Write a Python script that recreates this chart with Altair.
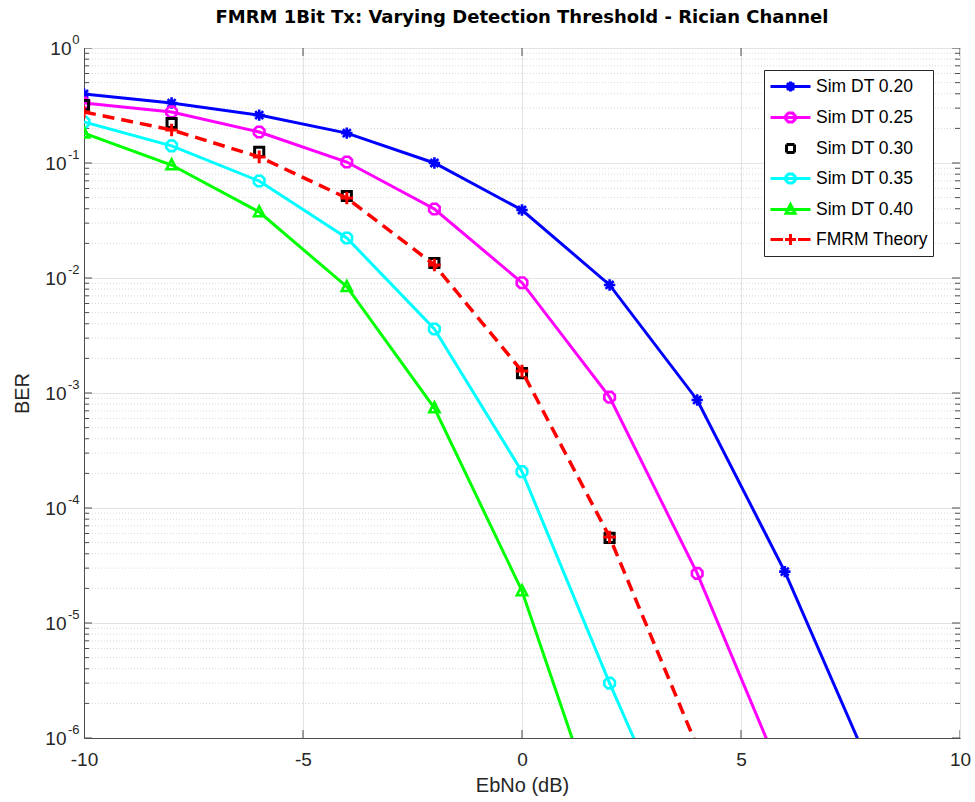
import re
import altair as alt
import pandas as pd

# ---- data ----
ebno = [-10, -8, -6, -4, -2, 0, 2, 4, 6, 8]
series_names = ["Sim DT 0.20", "Sim DT 0.25", "Sim DT 0.30", "Sim DT 0.35", "Sim DT 0.40", "FMRM Theory"]
ber_dt20 = [0.398, 0.332, 0.261, 0.182, 0.100, 0.039, 0.0087, 8.7e-4, 2.8e-5, 5.0e-7]
ber_dt25 = [0.332, 0.278, 0.186, 0.102, 0.0398, 0.0091, 9.2e-4, 2.7e-5, 4.1e-7]
ber_dt30 = [0.319, 0.223, 0.125, 0.0516, 0.0135, 1.49e-3, 5.5e-5]
ber_dt35 = [0.227, 0.141, 0.0697, 0.0223, 3.6e-3, 2.07e-4, 3.0e-6, 5.5e-8]
ber_dt40 = [0.182, 0.096, 0.0375, 8.4e-3, 7.4e-4, 1.9e-5, 1.1e-7]
ber_theory = [0.278, 0.194, 0.113, 0.0496, 0.013, 1.55e-3, 5.6e-5, 8.4e-7]
colors = ["#0000ff", "#ff00ff", "#000000", "#00ffff", "#00ff00", "#ff0000"]

x_domain = [-10, 10]
y_domain = [1e-6, 1]
x_ticks = [-10, -5, 0, 5, 10]
y_major = [1e-6, 1e-5, 1e-4, 1e-3, 1e-2, 1e-1, 1]
y_minor = [m * 10.0 ** e for e in range(-6, 0) for m in range(2, 10)]

all_vals = [ber_dt20, ber_dt25, ber_dt30, ber_dt35, ber_dt40, ber_theory]
rows = []
for name, vals in zip(series_names, all_vals):
    for xv, yv in zip(ebno, vals):
        rows.append({"series": name, "EbNo": xv, "BER": yv})
df = pd.DataFrame(rows)
df_sim_lines = df[df.series.isin(["Sim DT 0.20", "Sim DT 0.25", "Sim DT 0.35", "Sim DT 0.40"])]
df_theory = df[df.series == "FMRM Theory"]
df_minor = pd.DataFrame({"v": y_minor})

# ---- marker shapes (unit paths) ----
octa = "M0.924,0.383L0.383,0.924L-0.383,0.924L-0.924,0.383L-0.924,-0.383L-0.383,-0.924L0.383,-0.924L0.924,-0.383Z"
aster = "M-1,0L1,0M0,-1L0,1M-0.7,-0.7L0.7,0.7M-0.7,0.7L0.7,-0.7"
square = "M-0.8,-0.8L0.8,-0.8L0.8,0.8L-0.8,0.8Z"
tri = "M0,-1L0.9,0.75L-0.9,0.75Z"
plus = "M-1.1,0L1.1,0M0,-1.1L0,1.1"
marker_paths = [aster, octa, square, octa, tri, plus]
marker_widths = [2.6, 2.6, 3.0, 2.6, 2.6, 3.0]


def xform(path, k=1.0, dx=0.0):
    """scale a M/L/Z path by k and shift it by dx along x"""
    def rep(m):
        x, y = float(m.group(1)), float(m.group(2))
        return f"{x * k + dx:g},{y * k:g}"
    return re.sub(r"(-?[\d.]+),(-?[\d.]+)", rep, path)


SH = 1.0  # legend glyph shift (units)
line_seg = xform("M-2,0L2,0", 1, SH)
legend_paths = [
    line_seg + xform(aster, 0.5, SH),
    line_seg + xform(octa, 0.5, SH),
    xform(square, 0.5, SH),
    line_seg + xform(octa, 0.5, SH),
    line_seg + xform(tri, 0.5, SH),
    xform("M-2,0L-0.75,0M0.75,0L2,0", 1, SH) + xform(plus, 0.5, SH),
]
expr = "'" + legend_paths[-1] + "'"
for name, p in reversed(list(zip(series_names[:-1], legend_paths[:-1]))):
    expr = f"datum.value === '{name}' ? '{p}' : ({expr})"

FONT = "Liberation Sans"
AXC = "#4d4d4d"

legend = alt.Legend(
    title=None, orient="none", legendX=680, legendY=22,
    symbolSize=400, symbolStrokeWidth=3, symbolType=alt.ExprRef(expr=expr),
    symbolFillColor="transparent", symbolOpacity=1, symbolDash=[1, 0],
    labelFont=FONT, labelFontSize=17.5, labelColor="#000000", labelOffset=24,
    rowPadding=8, padding=5, strokeColor="#262626", fillColor="white",
)

x_scale = alt.Scale(domain=x_domain, nice=False, zero=False)
y_scale = alt.Scale(type="log", domain=y_domain, nice=False)

x_axis = alt.Axis(values=x_ticks, title="EbNo (dB)", labelFlush=False,
                  labelExpr="datum.value < 0 ? '-' + (-datum.value) : '' + datum.value")
x_enc = alt.X("EbNo:Q", scale=x_scale, axis=x_axis)

# y axis "10" part (with grid and title)
y_axis_base = alt.Axis(values=y_major, title="BER", orient="left", labelFlush=False,
                       labelExpr="'10'", labelAlign="right", labelFontSize=19,
                       labelPadding={"condition": {"test": "datum.value === 1", "value": 13}, "value": 18},
                       grid=True, titlePadding=12)
# y axis exponent part
y_axis_exp = alt.Axis(values=y_major, title=None, orient="left", labelFlush=False,
                      labelExpr="['0','-1','-2','-3','-4','-5','-6'][round(-log(datum.value)/LN10)]",
                      labelAlign="right", labelFontSize=13, labelPadding=5, labelOffset=-9,
                      grid=False, domain=False)

y_base = alt.Y("BER:Q", scale=y_scale, axis=y_axis_base)
y_exp = alt.Y("BER:Q", scale=y_scale, axis=y_axis_exp)
y_none = alt.Y("BER:Q", scale=y_scale, axis=None)

color_enc = alt.Color("series:N", scale=alt.Scale(domain=series_names, range=colors), legend=legend)

minor = alt.Chart(df_minor).mark_rule(color="#d9d9d9", strokeDash=[1, 2], strokeWidth=1).encode(
    y=alt.Y("v:Q", scale=y_scale, axis=None))

# inside ticks (MATLAB style box ticks), clipped at the frame
tick_layers = []
for xv in x_domain:
    tick_layers.append(alt.Chart(pd.DataFrame({"EbNo": xv, "BER": y_major})).mark_tick(
        orient="horizontal", size=16, thickness=1, color=AXC, clip=True, opacity=1).encode(x=x_enc, y=y_none))
    tick_layers.append(alt.Chart(pd.DataFrame({"EbNo": xv, "BER": y_minor})).mark_tick(
        orient="horizontal", size=10, thickness=1, color=AXC, clip=True, opacity=1).encode(x=x_enc, y=y_none))
for yv in y_domain:
    tick_layers.append(alt.Chart(pd.DataFrame({"EbNo": x_ticks, "BER": yv})).mark_tick(
        orient="vertical", size=16, thickness=1, color=AXC, clip=True, opacity=1).encode(x=x_enc, y=y_none))

sim_lines = alt.Chart(df_sim_lines).mark_line(clip=True, strokeWidth=3).encode(
    x=x_enc, y=y_base, color=color_enc)
th_line = alt.Chart(df_theory).mark_line(clip=True, strokeWidth=3.5, strokeDash=[12, 7]).encode(
    x=x_enc, y=y_exp, color=color_enc)

pt_layers = []
for name, col, path, sw in zip(series_names, colors, marker_paths, marker_widths):
    sub = df[df.series == name]
    pt_layers.append(
        alt.Chart(sub).mark_point(clip=True, filled=False, shape=path, color=col, size=130,
                                  strokeWidth=sw, opacity=1).encode(x=x_enc, y=y_none)
    )

layers = [minor] + tick_layers + [sim_lines] + pt_layers[:5] + [th_line, pt_layers[5]]

chart = alt.layer(*layers).resolve_axis(y="independent").properties(
    width=876, height=690,
    title=alt.TitleParams("FMRM 1Bit Tx: Varying Detection Threshold - Rician Channel",
                          font="DejaVu Sans", fontSize=18, fontWeight="bold", anchor="middle",
                          offset=6, color="#000000"),
    autosize=alt.AutoSizeParams(type="none"),
    padding={"left": 84, "top": 48, "right": 15, "bottom": 64},
).configure_view(stroke=AXC, strokeWidth=1).configure_axis(
    labelFont=FONT, labelFontSize=19, labelColor="#262626",
    titleFont=FONT, titleFontSize=20, titleFontWeight="normal", titleColor="#262626",
    gridColor="#e3e3e3", gridWidth=1, ticks=False, domainColor=AXC,
).configure_axisX(labelPadding=12, titlePadding=6)

chart.save("out.html", embed_options={"renderer": "svg", "actions": False})
